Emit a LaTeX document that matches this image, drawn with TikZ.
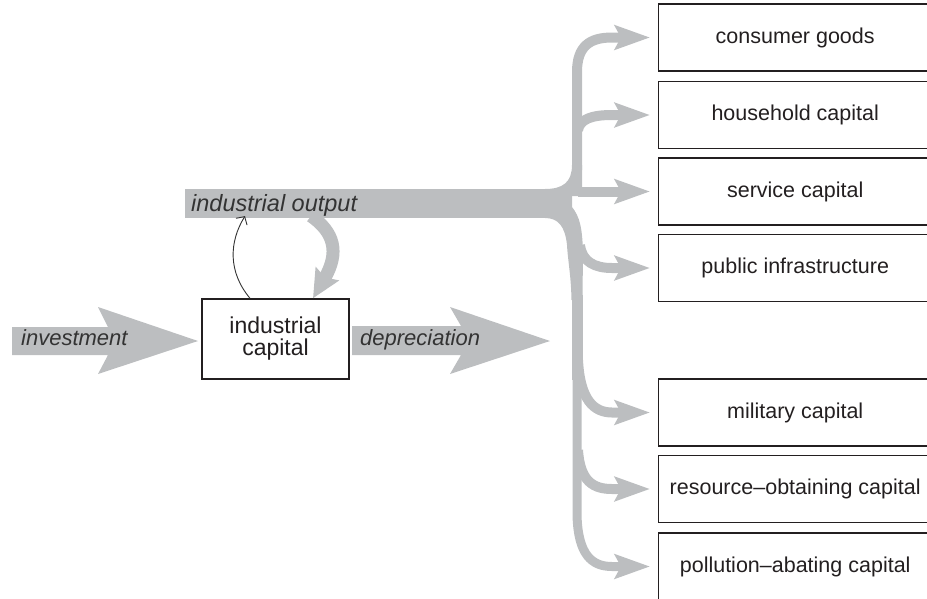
\documentclass[tikz,border=0pt]{standalone}
\usepackage{fontspec}
\setmainfont{Liberation Sans}
\usetikzlibrary{arrows.meta}
\definecolor{flow}{HTML}{BCBEC0}
\definecolor{ink}{HTML}{231F20}
\definecolor{lab}{HTML}{333333}
\begin{document}
\begin{tikzpicture}[x=1pt,y=-1pt,
  outbox/.style={draw=ink,line width=1.4pt,minimum width=273pt,minimum height=67pt,anchor=west,inner sep=0pt,font=\fontsize{21.5}{24}\selectfont,text=ink},
  stockbox/.style={draw=ink,line width=1.4pt,minimum width=147pt,minimum height=80pt,inner sep=0pt,align=center,font=\fontsize{23}{23}\selectfont,text=ink},
  flowlabel/.style={inner sep=0pt,anchor=base west,text=lab,font=\fontsize{22}{24}\selectfont\itshape},
  branch/.style={draw=flow,line width=10pt,-{Stealth[length=35pt,width=24pt,inset=6pt]},shorten >=8pt},
  trunk/.style={draw=flow,line width=10pt},
  bigflow/.style={fill=flow,draw=none},
  thinarrow/.style={draw=lab,line width=0.9pt,-{Straight Barb[length=6pt,width=13pt]}}]
\useasboundingbox (0,0) rectangle (927,598);
\clip (0,0) rectangle (927,598);

% output boxes
\node[outbox] (b1) at (658,37.5) {consumer goods};
\node[outbox] (b2) at (658,115) {household capital};
\node[outbox] (b3) at (658,191.5) {service capital};
\node[outbox] (b4) at (658,268) {public infrastructure};
\node[outbox] (b5) at (658,412.5) {military capital};
\node[outbox] (b6) at (658,489) {resource--obtaining capital};
\node[outbox] (b7) at (658,566.5) {pollution--abating capital};

% stock
\node[stockbox] (ic) at (275.5,339) {industrial\\[-1pt]capital};

% investment and depreciation flows
\fill[bigflow] (12,327) -- (108,327) -- (98,307) -- (198,341) -- (98,374) -- (108,355) -- (12,355) -- cycle;
\fill[bigflow] (352,326) -- (461,326) -- (450,307) -- (550,341) -- (450,374) -- (461,355) -- (352,355) -- cycle;
\node[flowlabel] (tinv) at (21,345) {investment};
\node[flowlabel] (tdep) at (360,345) {depreciation};

% industrial output band and junction
\fill[bigflow] (185,189) rectangle (556,218);
\fill[bigflow] (545,189) .. controls (563,189) and (572,182) .. (572,165) -- (582,165) -- (582,196) -- (545,196) -- cycle;
\fill[bigflow] (545,218) .. controls (558,218) and (565,226) .. (567,245) .. controls (568,262) and (571,275) .. (571.5,300) -- (582.5,300) -- (583,250) .. controls (582,228) and (580,217) .. (572,207) -- (572,196) -- (545,196) -- cycle;
\node[flowlabel,font=\fontsize{23.5}{24}\selectfont\itshape] (tout) at (191,211) {industrial output};

% trunk coordinates
\coordinate (up0) at (577,170);
\coordinate (up1) at (577,72);
\coordinate (hh) at (578,130);
\coordinate (sv) at (578,191.5);
\coordinate (pb) at (580,245);
\coordinate (lo0) at (577,295);
\coordinate (lo1) at (577,515);
\coordinate (ml) at (578,360);
\coordinate (rs) at (578,450);
\coordinate (xa) at (313,0);
\coordinate (xb) at (250,0);
\coordinate (xc) at (245,0);

% branches
\draw[branch] (up0) -- (up1) .. controls (577,46) and (590,37.5) .. (612,37.5) -- (b1.west);
\draw[branch] (hh) .. controls (580,119) and (592,115) .. (612,115) -- (b2.west);
\draw[branch] (sv) -- (b3.west);
\draw[branch] (pb) .. controls (582,262) and (595,268) .. (612,268) -- (b4.west);
\draw[branch] (ml) .. controls (580,400) and (594,412.5) .. (612,412.5) -- (b5.west);
\draw[branch] (rs) .. controls (580,482) and (594,489) .. (612,489) -- (b6.west);
\draw[branch,line width=9pt] (lo0) -- (lo1) .. controls (578,555) and (592,566.5) .. (612,566.5) -- (b7.west);
\draw[trunk,line width=11pt] (lo0) -- (577,380);

% feedback loops
\coordinate (fb0) at (311,216);
\draw[draw=flow,line width=13pt,-{Stealth[length=28pt,width=26pt,inset=4pt]}] (fb0) .. controls (334,232) and (340,252) .. (ic.north -| xa);
\draw[thinarrow] (ic.north -| xb) .. controls (228,272) and (229,242) .. (tout.south -| xc);
\end{tikzpicture}
\end{document}
